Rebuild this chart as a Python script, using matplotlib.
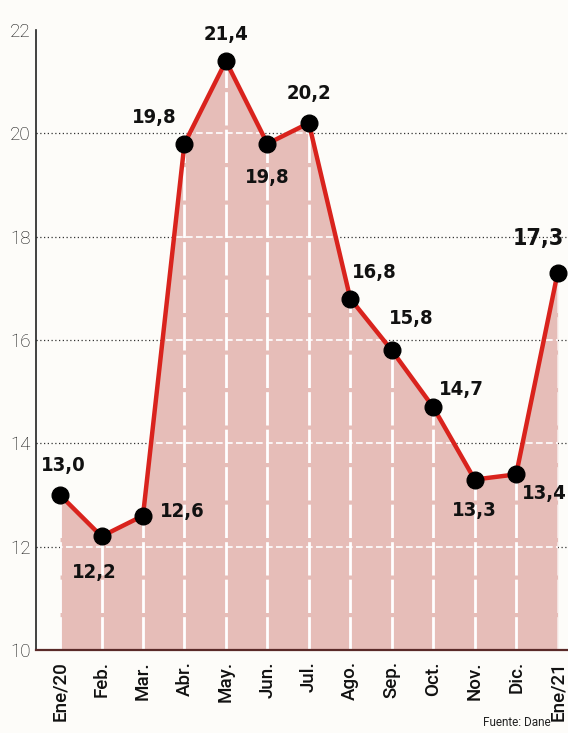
import matplotlib
matplotlib.use("Agg")
import matplotlib.pyplot as plt
from matplotlib import font_manager

# data
months = ["Ene/20", "Feb.", "Mar.", "Abr.", "May.", "Jun.", "Jul.",
          "Ago.", "Sep.", "Oct.", "Nov.", "Dic.", "Ene/21"]
values = [13.0, 12.2, 12.6, 19.8, 21.4, 19.8, 20.2,
          16.8, 15.8, 14.7, 13.3, 13.4, 17.3]
labels = ["13,0", "12,2", "12,6", "19,8", "21,4", "19,8", "20,2",
          "16,8", "15,8", "14,7", "13,3", "13,4", "17,3"]
# label offsets in points (dx, dy)
offsets = [(2, 21), (-5, -26), (28, 3), (-22, 19), (0, 19), (0, -24), (0, 21),
           (17, 19), (14, 23), (20, 13), (0, -22), (20, -14), (-14, 25)]
yticks = [10, 12, 14, 16, 18, 20, 22]

red = "#d9231d"
pink = "#e6bdb8"
bg = "#fdfcf9"

# look for a condensed bold face for the value labels
cond = None
for f in font_manager.fontManager.ttflist:
    st = str(f.stretch).lower()
    w = f.weight if isinstance(f.weight, int) else 700
    if ("condensed" in st or "narrow" in f.name.lower() or "condensed" in f.name.lower()) \
            and w >= 700 and f.style == "normal":
        cond = f.fname
        break
if cond:
    lab_prop = dict(fontproperties=font_manager.FontProperties(fname=cond))
    lab_size = 14.5
else:
    lab_prop = dict(family=["Roboto", "DejaVu Sans"], fontweight=900)
    lab_size = 15.5

fig = plt.figure(figsize=(5.68, 7.33), dpi=100, facecolor=bg)
ax = fig.add_axes([0.0634, 0.1132, 0.9366, 0.8458])
ax.set_facecolor(bg)

x = list(range(len(months)))
ax.set_xlim(-0.58, 12.25)
ax.set_ylim(10, 22)

# dotted grid over the white part
for y in yticks[1:-1]:
    ax.axhline(y, color="#333333", lw=0.9, ls=(0, (1, 2)), zorder=1)

fill = ax.fill_between(x, values, 10, color=pink, lw=0, zorder=2)
clip = fill.get_paths()[0]

# white lines inside the fill
for y in yticks[1:-1]:
    ln = ax.axhline(y, color="white", lw=1.2, ls=(0, (4, 2)), zorder=3)
    ln.set_clip_path(clip, ax.transData)
for xi in x:
    ln = ax.axvline(xi, color="white", lw=2, ls=(0, (12, 1.5)), zorder=3)
    ln.set_clip_path(clip, ax.transData)

ax.plot(x, values, color=red, lw=3.2, zorder=4)
ax.plot(x, values, "o", color="black", ms=12, zorder=5)

for xi, v, lab, off in zip(x, values, labels, offsets):
    t = ax.annotate(lab, (xi, v), xytext=off, textcoords="offset points",
                    ha="center", va="center", color="#111111", zorder=6,
                    **lab_prop)
    t.set_fontsize(lab_size * 1.15 if lab == "17,3" else lab_size)

for s in ["top", "right"]:
    ax.spines[s].set_visible(False)
ax.spines["left"].set_color("#222222")
ax.spines["left"].set_linewidth(1.2)
ax.spines["bottom"].set_color("#5a2a28")
ax.spines["bottom"].set_linewidth(1.6)
ax.spines["bottom"].set_zorder(7)

ax.set_yticks(yticks)
ax.set_yticklabels([str(t) for t in yticks], fontsize=13.5,
                   family=["Roboto", "DejaVu Sans"], fontweight="light",
                   color="#111111")
ax.tick_params(axis="y", length=0, pad=4)
ax.set_xticks(x)
ax.set_xticklabels(months, rotation=90, fontsize=13.5,
                   family=["Roboto", "DejaVu Sans"], fontweight="medium",
                   color="#111111")
ax.tick_params(axis="x", length=0, pad=8)

fig.text(0.97, 0.006, "Fuente: Dane", ha="right", va="bottom", fontsize=8.5,
         family=["Roboto", "DejaVu Sans"], color="#222222")

plt.savefig("out.png", dpi=100, facecolor=bg)
